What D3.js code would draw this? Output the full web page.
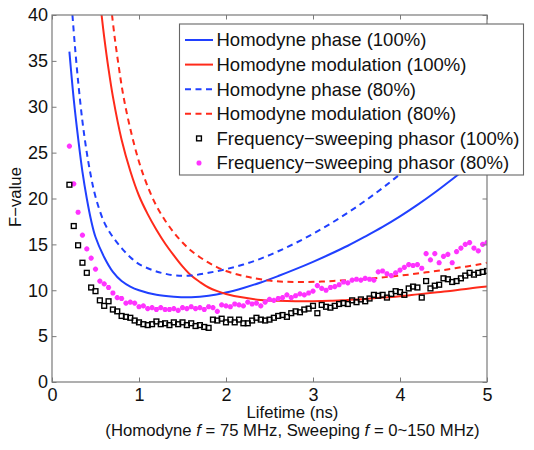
<!DOCTYPE html>
<html><head><meta charset="utf-8">
<script src="https://cdn.jsdelivr.net/npm/d3@7"></script>
<style>
html,body{margin:0;padding:0;background:#fff;}
svg{display:block;font-family:"Liberation Sans",Arial,Helvetica,sans-serif;}
</style></head>
<body><svg id="chart" width="534" height="450"></svg>
<script>
// ---- data ----
const xTicks = [0, 1, 2, 3, 4, 5];
const yTicks = [0, 5, 10, 15, 20, 25, 30, 35, 40];

const phase100 = [[0.2,36],[0.25,30.8],[0.3,26.6],[0.35,22.9],[0.4,20.0],[0.45,17.6],[0.5,15.8],[0.6,13.6],[0.7,12.0],[0.8,11.0],[0.9,10.4],[1.0,10.0],[1.2,9.5],[1.4,9.3],[1.6,9.25],[1.8,9.4],[2.0,9.75],[2.2,10.25],[2.4,10.85],[2.6,11.55],[2.8,12.3],[3.0,13.1],[3.2,13.95],[3.4,14.85],[3.6,15.85],[3.8,16.9],[4.0,18.05],[4.2,19.3],[4.4,20.65],[4.6,22.1],[4.8,23.6],[5.0,25.2]];
const modulation100 = [[0.57,40],[0.6,37.6],[0.65,34.1],[0.7,31.1],[0.8,26.4],[0.9,23.0],[1.0,20.3],[1.1,18.3],[1.2,16.6],[1.3,15.1],[1.4,13.8],[1.5,12.6],[1.6,11.6],[1.7,10.9],[1.8,10.3],[1.9,9.9],[2.0,9.6],[2.2,9.2],[2.4,8.95],[2.6,8.85],[2.8,8.8],[3.0,8.8],[3.2,8.85],[3.4,8.95],[3.6,9.05],[3.8,9.2],[4.0,9.35],[4.2,9.55],[4.4,9.75],[4.6,9.95],[4.8,10.2],[5.0,10.4]];
const phase80 = [[0.235,40],[0.26,37.0],[0.3,32.8],[0.35,28.4],[0.4,25.0],[0.45,22.3],[0.5,20.2],[0.6,17.4],[0.7,15.8],[0.8,14.6],[0.9,13.6],[1.0,12.85],[1.1,12.4],[1.2,12.05],[1.3,11.8],[1.43,11.6],[1.6,11.6],[1.8,11.9],[2.0,12.3],[2.2,12.8],[2.4,13.45],[2.6,14.25],[2.8,15.15],[3.0,16.15],[3.2,17.25],[3.4,18.45],[3.6,19.75],[3.8,21.15],[4.0,22.65],[4.2,24.25],[4.4,25.95],[4.6,27.75],[4.8,29.65],[5.0,31.65]];
const modulation80 = [[0.69,40],[0.72,37.6],[0.77,34.2],[0.82,31.2],[0.9,27.6],[1.0,24.0],[1.1,21.3],[1.2,19.2],[1.3,17.6],[1.4,16.3],[1.5,15.2],[1.6,14.3],[1.7,13.6],[1.8,13.0],[1.9,12.5],[2.0,12.1],[2.1,11.8],[2.2,11.55],[2.3,11.35],[2.5,11.05],[2.7,10.92],[2.9,10.9],[3.1,10.95],[3.3,11.05],[3.5,11.15],[3.7,11.3],[3.9,11.5],[4.1,11.7],[4.3,11.95],[4.5,12.2],[4.7,12.5],[4.9,12.8],[5.0,13.0]];

const sweepLifetimes = [0.2,0.25,0.3,0.35,0.4,0.45,0.5,0.55,0.6,0.65,0.7,0.75,0.8,0.85,0.9,0.95,1,1.05,1.1,1.15,1.2,1.25,1.3,1.35,1.4,1.45,1.5,1.55,1.6,1.65,1.7,1.75,1.8,1.85,1.9,1.95,2,2.05,2.1,2.15,2.2,2.25,2.3,2.35,2.4,2.45,2.5,2.55,2.6,2.65,2.7,2.75,2.8,2.85,2.9,2.95,3,3.05,3.1,3.15,3.2,3.25,3.3,3.35,3.4,3.45,3.5,3.55,3.6,3.65,3.7,3.75,3.8,3.85,3.9,3.95,4,4.05,4.1,4.15,4.2,4.25,4.3,4.35,4.4,4.45,4.5,4.55,4.6,4.65,4.7,4.75,4.8,4.85,4.9,4.95,5];
const sweep100 = [21.5,17.0,14.9,13.0,11.9,10.3,9.9,8.9,8.3,8.8,
7.9,7.7,7.2,7.1,7.0,6.7,6.5,6.3,6.2,6.3,
6.6,6.3,6.4,6.2,6.5,6.3,6.5,6.2,6.4,6.1,
6.2,6.0,5.9,6.8,6.7,6.9,6.5,6.8,6.5,6.8,
6.4,6.4,6.7,7.0,6.8,6.7,6.8,7.0,7.2,7.3,
7.1,7.5,7.7,7.6,7.9,8.0,8.3,7.5,8.4,8.2,
8.1,8.3,8.5,8.6,8.5,8.9,8.7,9.0,8.8,9.1,
9.5,9.4,9.5,9.2,9.6,9.9,9.8,9.5,10.2,10.4,
10.3,9.2,11.0,10.2,10.5,10.6,11.3,11.2,10.9,11.0,
11.3,11.6,11.9,11.7,11.9,12.0,12.1];
const sweep80 = [25.7,21.6,18.5,16.0,14.5,13.5,12.3,11.0,10.7,10.3,
9.7,9.2,9.1,8.6,8.7,8.6,8.2,8.3,8.0,8.1,
7.9,8.1,7.9,7.9,8.0,7.8,8.1,8.0,8.2,8.0,
8.1,7.9,8.2,8.1,7.7,8.4,8.3,8.2,8.5,8.4,
8.3,8.7,8.5,8.6,8.3,8.7,9.0,8.9,9.1,9.2,
9.5,9.2,9.4,9.6,9.5,9.7,9.9,10.5,10.2,10.0,
10.3,10.4,10.6,10.9,10.8,11.1,11.2,11.1,11.3,11.2,
11.1,12.0,12.1,11.8,11.6,11.9,12.2,12.5,12.8,12.7,
12.8,12.4,14.0,13.3,14.0,13.0,13.7,13.9,13.0,14.2,
14.6,15.0,15.2,14.6,14.3,15.0,15.2];

const legendLabels = ["Homodyne phase (100%)","Homodyne modulation (100%)","Homodyne phase (80%)","Homodyne modulation (80%)","Frequency\u2212sweeping phasor (100%)","Frequency\u2212sweeping phasor (80%)"];

// ---- drawing ----
const BLUE = "#2040ff", RED = "#ff2a1a", MAG = "#ff33ff", AXC = "#7a7a7a";
const L = 52, R = 487, T = 15, B = 382;
const svg = d3.select("#chart");
const x = d3.scaleLinear().domain([0,5]).range([L,R]);
const y = d3.scaleLinear().domain([0,40]).range([B,T]);

svg.append("defs").append("clipPath").attr("id","clip")
  .append("rect").attr("x",L).attr("y",T).attr("width",R-L).attr("height",B-T);

const plot = svg.append("g").attr("clip-path","url(#clip)");
const line = d3.line().x(d=>x(d[0])).y(d=>y(d[1])).curve(d3.curveCatmullRom.alpha(0.5));

const curves = [
  {data: phase100, color: BLUE, dash: null},
  {data: modulation100, color: RED, dash: null},
  {data: phase80, color: BLUE, dash: "6,4.5"},
  {data: modulation80, color: RED, dash: "6,4.5"}
];
curves.forEach(c => {
  plot.append("path").attr("d", line(c.data)).attr("fill","none")
    .attr("stroke", c.color).attr("stroke-width", 2)
    .attr("stroke-dasharray", c.dash);
});

// magenta asterisk markers
const star = "M-2.6,0H2.6M0,-2.6V2.6M-1.8,-1.8L1.8,1.8M-1.8,1.8L1.8,-1.8";
plot.append("g").selectAll("path").data(sweepLifetimes.map((t,i)=>[t,sweep80[i]]))
  .join("path").attr("d", star)
  .attr("transform", d=>`translate(${x(d[0])},${y(d[1])})`)
  .attr("stroke", MAG).attr("stroke-width", 1.7).attr("fill","none");

// black square markers
plot.append("g").selectAll("rect").data(sweepLifetimes.map((t,i)=>[t,sweep100[i]]))
  .join("rect")
  .attr("x", d=>x(d[0])-2.4).attr("y", d=>y(d[1])-2.4)
  .attr("width",4.8).attr("height",4.8)
  .attr("fill","none").attr("stroke","#000").attr("stroke-width",1.4);

// axes
const tk = 4.5;
const gx = svg.append("g").attr("transform",`translate(0,${B})`)
  .call(d3.axisBottom(x).tickValues(xTicks).tickSizeInner(-tk).tickSizeOuter(0).tickPadding(6).tickFormat(d3.format("d")));
const gy = svg.append("g").attr("transform",`translate(${L},0)`)
  .call(d3.axisLeft(y).tickValues(yTicks).tickSizeInner(-tk).tickSizeOuter(0).tickPadding(4).tickFormat(d3.format("d")));
const gt = svg.append("g").attr("transform",`translate(0,${T})`)
  .call(d3.axisTop(x).tickValues(xTicks).tickSizeInner(-tk).tickSizeOuter(0).tickFormat(""));
const gr = svg.append("g").attr("transform",`translate(${R},0)`)
  .call(d3.axisRight(y).tickValues(yTicks).tickSizeInner(-tk).tickSizeOuter(0).tickFormat(""));
[gx,gy,gt,gr].forEach(g=>{
  g.select(".domain").remove();
  g.selectAll(".tick line").attr("stroke",AXC);
  g.selectAll(".tick text").attr("fill","#111").attr("font-size",18)
   .attr("font-family",'"Liberation Sans",Arial,sans-serif');
});
svg.append("rect").attr("x",L).attr("y",T).attr("width",R-L).attr("height",B-T)
  .attr("fill","none").attr("stroke",AXC).attr("stroke-width",1.2);

// axis titles
svg.append("text").attr("x",292.5).attr("y",418).attr("text-anchor","middle")
  .attr("font-size",16.7).attr("fill","#111").text("Lifetime (ns)");
const sub = svg.append("text").attr("x",292.5).attr("y",436).attr("text-anchor","middle")
  .attr("font-size",16.7).attr("fill","#111");
sub.append("tspan").text("(Homodyne ");
sub.append("tspan").attr("font-style","italic").text("f");
sub.append("tspan").text(" = 75 MHz, Sweeping ");
sub.append("tspan").attr("font-style","italic").text("f");
sub.append("tspan").text(" = 0~150 MHz)");
svg.append("text").attr("transform","translate(20.5,197) rotate(-90)")
  .attr("text-anchor","middle").attr("font-size",16.7).attr("fill","#111").text("F\u2212value");

// legend
const lg = svg.append("g");
lg.append("rect").attr("x",179.5).attr("y",24).attr("width",344).attr("height",151)
  .attr("fill","#fff").attr("stroke","#666").attr("stroke-width",1.1);
const rowY = i => 40 + i*24.6;
const legendStyles = [
  {type:"line", color:BLUE, dash:null},
  {type:"line", color:RED, dash:null},
  {type:"line", color:BLUE, dash:"6,4.5"},
  {type:"line", color:RED, dash:"6,4.5"},
  {type:"square"},
  {type:"star"}
];
legendLabels.forEach((lab,i)=>{
  const s = legendStyles[i], cy = rowY(i);
  if (s.type==="line") {
    lg.append("line").attr("x1",185).attr("x2",213).attr("y1",cy).attr("y2",cy)
      .attr("stroke",s.color).attr("stroke-width",2).attr("stroke-dasharray",s.dash);
  } else if (s.type==="square") {
    lg.append("rect").attr("x",199-2.4).attr("y",cy-2.4).attr("width",4.8).attr("height",4.8)
      .attr("fill","none").attr("stroke","#000").attr("stroke-width",1.4);
  } else {
    lg.append("path").attr("d",star).attr("transform",`translate(199,${cy})`)
      .attr("stroke",MAG).attr("stroke-width",1.7).attr("fill","none");
  }
  lg.append("text").attr("x",216.5).attr("y",cy).attr("dy","0.35em")
    .attr("font-size",18.5).attr("fill","#111").text(lab);
});
</script></body></html>
